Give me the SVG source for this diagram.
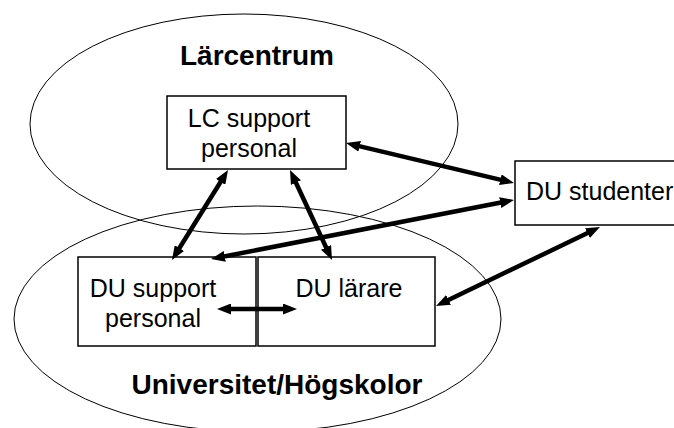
<svg xmlns="http://www.w3.org/2000/svg" width="674" height="428" viewBox="0 0 674 428">
<style>
.bg{fill:#fff}
.ell{fill:none;stroke:#000;stroke-width:1}
.box{fill:#fff;stroke:#000;stroke-width:1.5}
.t{font-family:"Liberation Sans",Arial,sans-serif;font-size:25px;fill:#000;text-anchor:middle}
.b{font-family:"Liberation Sans",Arial,sans-serif;font-size:28px;font-weight:bold;fill:#000;text-anchor:middle}
.c{fill:none;stroke:#000;stroke-width:4.5;marker-start:url(#ah);marker-end:url(#ah)}
</style>
<defs>
<marker id="ah" markerUnits="userSpaceOnUse" markerWidth="14" markerHeight="11" refX="6" refY="5.5" orient="auto-start-reverse" viewBox="0 0 14 11">
<path d="M0,0 L14,5.5 L0,11 z" fill="#000"/>
</marker>
</defs>
<rect class="bg" x="0" y="0" width="674" height="428"/>
<g id="lc-area">
<ellipse class="ell" cx="244" cy="124" rx="214" ry="110"/>
<text class="b" x="257" y="65">Lärcentrum</text>
</g>
<g id="uni-area">
<ellipse class="ell" cx="257.5" cy="319" rx="243.5" ry="113"/>
<text class="b" x="277" y="394">Universitet/Högskolor</text>
</g>
<g id="lc-support">
<rect class="box" x="167" y="96" width="179" height="73"/>
<text class="t" x="249" y="127">LC support</text>
<text class="t" x="249" y="157">personal</text>
</g>
<g id="du-studenter">
<rect class="box" x="515" y="161" width="170" height="64"/>
<text class="t" x="526" y="200" style="text-anchor:start">DU studenter</text>
</g>
<g id="du-support">
<rect class="box" x="78" y="257" width="178" height="89"/>
<text class="t" x="153" y="297">DU support</text>
<text class="t" x="153" y="327">personal</text>
</g>
<g id="du-larare">
<rect class="box" x="258" y="257" width="177" height="89"/>
<text class="t" x="349" y="297">DU lärare</text>
</g>
<g id="connectors">
<path class="c" d="M353.8,144.9 L506.2,181.1"/>
<path class="c" d="M223.8,176.8 L176.2,253.2"/>
<path class="c" d="M293.4,177.2 L328.6,252.8"/>
<path class="c" d="M506.1,201.5 L218.9,257.5"/>
<path class="c" d="M592.8,230.5 L443.2,302.5"/>
<path class="c" d="M225,309 L289,309"/>
</g>
</svg>
